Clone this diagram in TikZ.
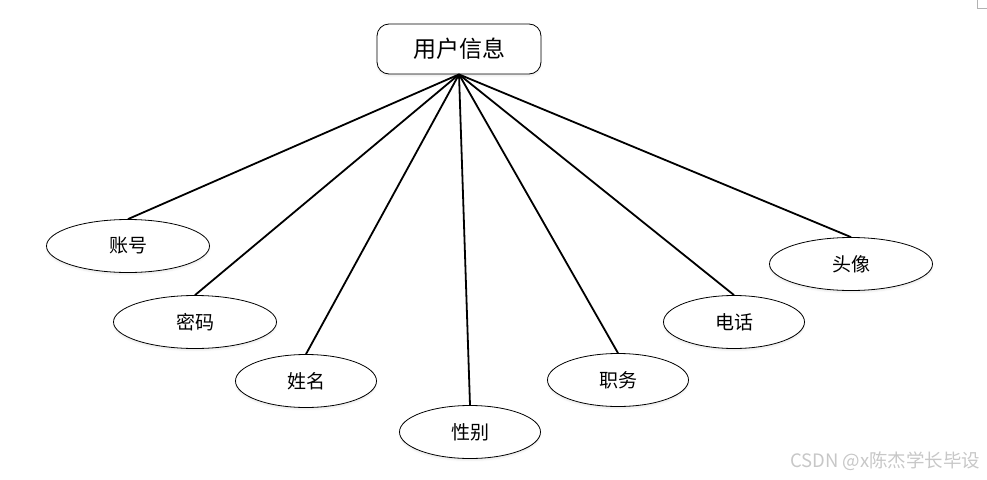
\documentclass[tikz,border=0pt]{standalone}
\usepackage{fontspec}
\newfontfamily\cjk{Noto Sans CJK SC}
\usetikzlibrary{shapes.geometric,shadows.blur}

\begin{document}
\begin{tikzpicture}[x=1pt, y=-1pt]
        \tikzset{
                basic/.style  = {draw, fill=white, line width=0.8pt, align=center, inner sep=0pt,
                                blur shadow={shadow xshift=0pt, shadow yshift=-2pt, shadow opacity=8, shadow blur steps=4},
                                font=\cjk\fontsize{19}{19}\selectfont},
                entity/.style = {basic, rectangle, rounded corners=12pt,
                                minimum width=164pt, minimum height=50pt,
                                font=\cjk\fontsize{23}{23}\selectfont},
                attr/.style   = {basic, ellipse, minimum width=141pt, minimum height=53pt},
                wide/.style   = {attr, minimum width=163pt},
                link/.style   = {line width=1.8pt}
        }
        \useasboundingbox (0,0) rectangle (987,479);

        % the entity
        \node[entity] (user) at (459,49) {用户信息};

        % its attributes, left to right
        \node[wide] (account)  at (128,246) {账号};
        \node[wide] (password) at (195,322) {密码};
        \node[attr] (name)     at (306,381) {姓名};
        \node[attr] (gender)   at (470,432) {性别};
        \node[attr] (post)     at (618,380) {职务};
        \node[attr] (phone)    at (734,322) {电话};
        \node[wide] (avatar)   at (851,264) {头像};

        % lines from the entity to every attribute
        \foreach \value in {account,password,name,gender,post,phone,avatar}
        \draw[link] (user.south) -- (\value.north);

        % watermark and corner mark
        \node[font=\cjk\fontsize{18.5}{18.5}\selectfont, text=black!22, anchor=east] (mark) at (984,461) {CSDN @x陈杰学长毕设};
        \draw[black!30, line width=0.8pt] (977,0) -- (977,8) -- (987,8);
\end{tikzpicture}
\end{document}
